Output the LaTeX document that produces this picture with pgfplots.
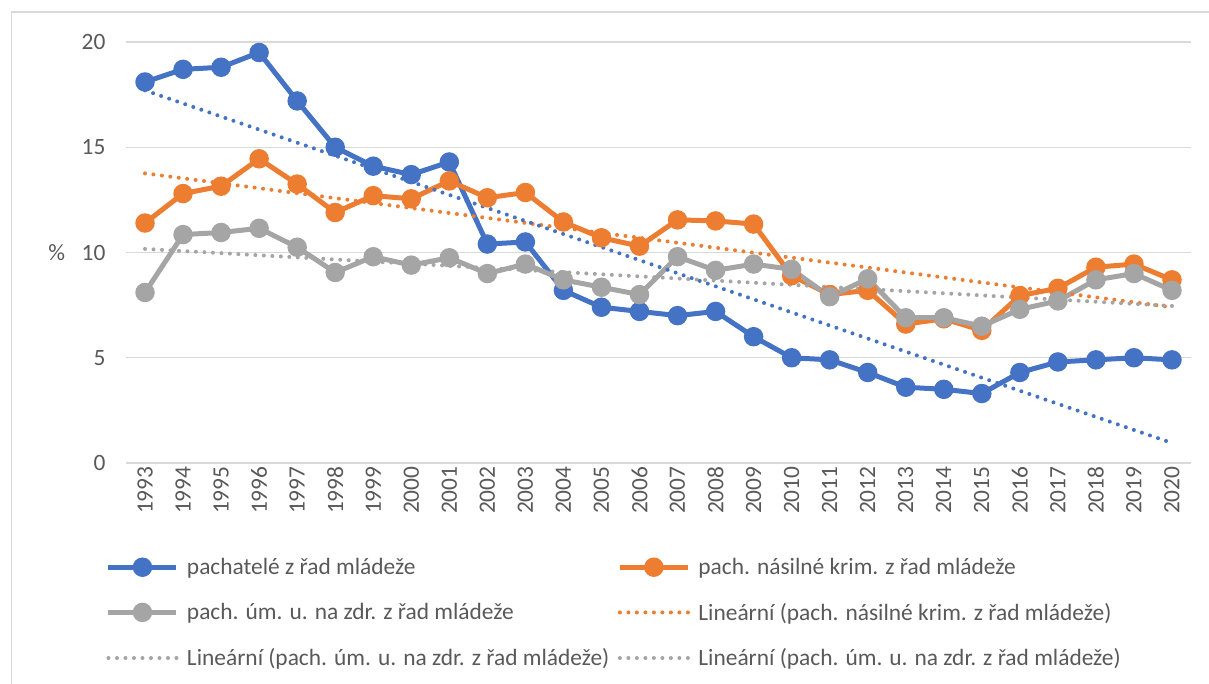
\documentclass[border=0pt]{standalone}
\usepackage{pgfplots}
\pgfplotsset{compat=1.18}
\usepackage{fontspec}
\setmainfont{Carlito}
\definecolor{cblue}{HTML}{4472C4}
\definecolor{corange}{HTML}{ED7D31}
\definecolor{cgray}{HTML}{A5A5A5}
\definecolor{ctext}{HTML}{595959}
\definecolor{cgrid}{HTML}{D9D9D9}
\pgfplotstableread{
year blue orange gray
1993 18.1 11.4 8.1
1994 18.7 12.8 10.85
1995 18.8 13.15 10.95
1996 19.5 14.45 11.15
1997 17.2 13.25 10.25
1998 15.0 11.9 9.05
1999 14.1 12.7 9.8
2000 13.7 12.55 9.4
2001 14.3 13.4 9.75
2002 10.4 12.6 9.0
2003 10.5 12.85 9.45
2004 8.2 11.45 8.7
2005 7.4 10.7 8.35
2006 7.2 10.3 8.0
2007 7.0 11.55 9.8
2008 7.2 11.5 9.15
2009 6.0 11.35 9.45
2010 5.0 8.9 9.2
2011 4.9 8.0 7.9
2012 4.3 8.2 8.75
2013 3.6 6.6 6.9
2014 3.5 6.85 6.9
2015 3.3 6.3 6.5
2016 4.3 7.95 7.3
2017 4.8 8.3 7.7
2018 4.9 9.3 8.7
2019 5.0 9.45 9.0
2020 4.9 8.7 8.2
}\datatable
\begin{document}
\begin{tikzpicture}
\path[use as bounding box] (0,0) rectangle (1209pt,684pt);
\draw[cgrid, line width=1.2pt] (11.5pt,-5pt) rectangle (1215pt,672pt);
\begin{axis}[
  at={(126pt,221pt)}, anchor=south west,
  scale only axis, width=1065pt, height=421pt,
  xmin=1992.5, xmax=2020.5, ymin=0, ymax=20,
  xtick={1993,...,2020}, ytick={0,5,...,20},
  ymajorgrids, grid style={cgrid, line width=1.3pt},
  axis line style={draw=none}, major tick length=0pt,
  /pgf/number format/assume math mode=true,
  /pgf/number format/set thousands separator={},
  font=\fontsize{23.4}{28}\selectfont,
  tick label style={text=ctext},
  xticklabel style={rotate=90, anchor=east, xshift=0pt},
  yticklabel style={anchor=east, xshift=-17pt},
  ylabel={\%},
  ylabel style={rotate=-90, at={(axis description cs:-0.065,0.5)}, anchor=center, text=ctext},
  legend columns=2,
  legend cell align=left,
  legend image code/.code={\draw[mark repeat=2,mark phase=2,#1] plot coordinates {(0pt,0pt) (34pt,0pt) (68pt,0pt)};},
  legend style={draw=none, fill=none, text=ctext, inner sep=0pt,
    at={(axis description cs:-0.019,-0.226)}, anchor=north west,
    nodes={inner sep=0pt, anchor=west},
    row sep=27pt,
    /tikz/every odd column/.append style={column sep=8pt},
    /tikz/every even column/.append style={column sep=8pt}},
  main/.style={line width=5pt, mark=*, mark size=7.2pt, mark options={solid}},
  trend/.style={line width=4pt, line cap=round, dash pattern=on 0pt off 8.5pt},
]
\addplot[cblue, main, forget plot] table[x=year, y=blue] {\datatable};
\addplot[corange, main, forget plot] table[x=year, y=orange] {\datatable};
\addplot[cgray, main, forget plot] table[x=year, y=gray] {\datatable};
\addplot[corange, trend, forget plot] coordinates {(1993,13.76) (2020,7.4)};
\addplot[cgray, trend, forget plot] coordinates {(1993,10.17) (2020,7.46)};
\addplot[cblue, trend, forget plot] coordinates {(1993,17.7) (2020,0.95)};
\addlegendimage{cblue, main}
\addlegendentry{pachatelé z řad mládeže}
\addlegendimage{corange, main}
\addlegendentry{pach. násilné krim. z řad mládeže}
\addlegendimage{cgray, main}
\addlegendentry{pach. úm. u. na zdr. z řad mládeže}
\addlegendimage{corange, trend}
\addlegendentry{Lineární (pach. násilné krim. z řad mládeže)}
\addlegendimage{cgray, trend}
\addlegendentry{Lineární (pach. úm. u. na zdr. z řad mládeže)}
\addlegendimage{cgray, trend}
\addlegendentry{Lineární (pach. úm. u. na zdr. z řad mládeže)}
\end{axis}
\end{tikzpicture}
\end{document}
